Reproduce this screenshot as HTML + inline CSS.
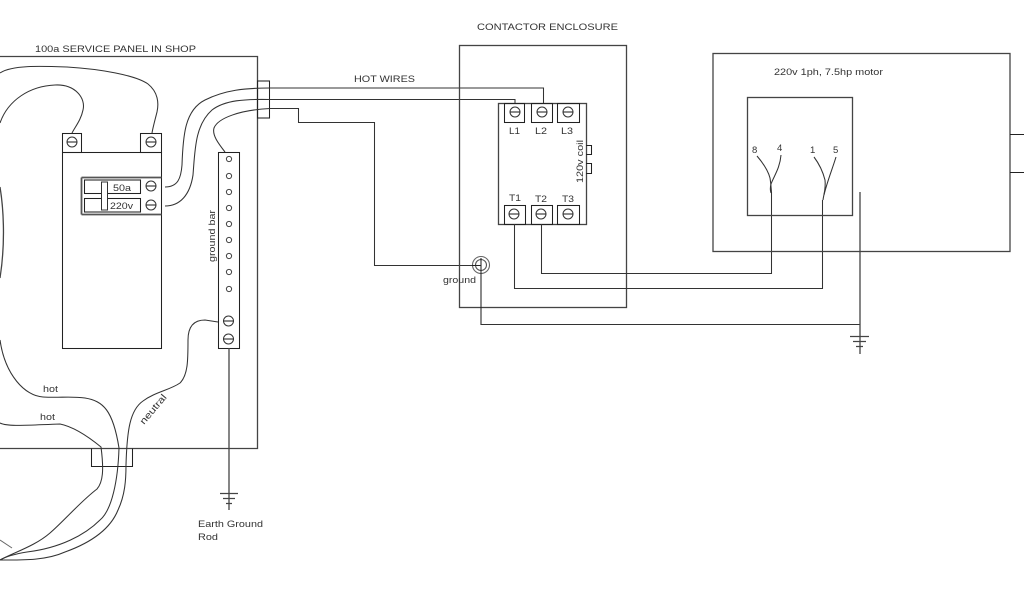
<!DOCTYPE html>
<html>
<head>
<meta charset="utf-8">
<style>
html,body{margin:0;padding:0;background:#fff;width:1024px;height:600px;overflow:hidden}
svg{display:block;filter:blur(0.3px)}
text{font-family:"Liberation Sans",sans-serif;fill:#333;font-size:9.5px}
.l{fill:none;stroke:#222;stroke-width:1.05}
.g{fill:none;stroke:#444;stroke-width:1.3}
.w{fill:none;stroke:#333;stroke-width:1.05}
.s{fill:#fff;stroke:#333;stroke-width:1}
</style>
</head>
<body>
<svg width="1024" height="600" viewBox="0 0 1024 600" xmlns="http://www.w3.org/2000/svg">
<defs>
<g id="sc"><circle r="5" class="s"/><path d="M-5 0H5" class="l"/></g>
<g id="h"><circle r="2.600" fill="#fff" stroke="#444" stroke-width="1"/></g>
</defs>

<!-- service panel -->
<path d="M0 56.500H257.500V448.500H0" class="g"/>
<rect x="257.500" y="81" width="12" height="37" fill="#fff" class="l"/>
<path d="M91.500 448.500V466.500H132.500V448.500" class="l"/>
<text x="35" y="52" textLength="161" lengthAdjust="spacingAndGlyphs">100a SERVICE PANEL IN SHOP</text>

<!-- breaker -->
<rect x="62.500" y="152.500" width="99" height="196" fill="#fff" class="l"/>
<rect x="62.500" y="133.500" width="19" height="19" class="l"/>
<rect x="140.500" y="133.500" width="21" height="19" class="l"/>
<use href="#sc" x="72" y="142"/>
<use href="#sc" x="151" y="142"/>
<path d="M81.500 177.500H161.500M81.500 214.500H161.500M81.500 177.500V214.500" fill="none" stroke="#555" stroke-width="1.800"/>
<rect x="84.500" y="180" width="56" height="13.500" class="l"/>
<rect x="84.500" y="198.500" width="56" height="13.500" class="l"/>
<rect x="101.500" y="182" width="6" height="28" fill="#fff" stroke="#333" stroke-width="1"/>
<use href="#sc" x="151" y="186"/>
<use href="#sc" x="151" y="205"/>
<text x="113" y="191" textLength="18" lengthAdjust="spacingAndGlyphs">50a</text>
<text x="110" y="209" textLength="23" lengthAdjust="spacingAndGlyphs">220v</text>

<!-- ground bar -->
<rect x="218.500" y="152.500" width="21" height="196" fill="#fff" class="l"/>
<use href="#h" x="229" y="159"/><use href="#h" x="229" y="176"/><use href="#h" x="229" y="192"/>
<use href="#h" x="229" y="208"/><use href="#h" x="229" y="224"/><use href="#h" x="229" y="240"/>
<use href="#h" x="229" y="256"/><use href="#h" x="229" y="272"/><use href="#h" x="229" y="289"/>
<use href="#sc" x="228.500" y="321"/><use href="#sc" x="228.500" y="339"/>
<text transform="translate(215,262) rotate(-90)" textLength="52" lengthAdjust="spacingAndGlyphs">ground bar</text>
<path d="M229 348V510M220 493.500H238M223 498.500H235M226 503.500H232" class="g"/>
<text x="198" y="527" textLength="65" lengthAdjust="spacingAndGlyphs">Earth Ground</text>
<text x="198" y="540" textLength="20" lengthAdjust="spacingAndGlyphs">Rod</text>

<!-- wires left -->
<path d="M0 73C12 65 40 66 67 67C100 69 135 75 148 84C158 92 159 103 157 112C155 120 153 127 152 133" class="w"/>
<path d="M0 123C8 100 30 86 55 85C75 84 86 98 83 110C81 120 75 127 72 133" class="w"/>
<path d="M0 187C3 205 6 240 0 278" class="g"/>
<path d="M0 340C5 375 25 396 43 397C60 398 70 396 85 398C103 401 113 410 119 448C118 480 112 510 100 520C85 535 60 548 27 552C15 554 5 557 0 560" class="w"/>
<path d="M0 423C8 427 30 425 60 424C75 427 90 438 101 447C104 470 103 482 97 489C80 502 65 520 50 533C35 546 15 552 0 560" class="w"/>
<path d="M0 560C20 560 45 561 65 552C90 543 110 530 118 510C125 495 126 480 126 465C127 430 130 410 143 401C155 392 170 390 180 383C188 375 188 360 188 340C188 325 195 320 205 320L218 322" class="w"/>
<path d="M0 540L12 548" fill="none" stroke="#666" stroke-width="1"/>
<text x="43" y="392" textLength="15" lengthAdjust="spacingAndGlyphs">hot</text>
<text x="40" y="420" textLength="15" lengthAdjust="spacingAndGlyphs">hot</text>
<text transform="translate(144,425) rotate(-50)" textLength="36" lengthAdjust="spacingAndGlyphs">neutral</text>

<!-- hot wires -->
<path d="M165 187C178 187 181 178 182 165C183 135 185 110 205 100C225 90 245 88 270 88H543.500V103" class="w"/>
<path d="M165 206C180 206 190 195 193 175C195 150 195 125 212 110C225 100 245 99 270 99.500H515V103" class="w"/>
<path d="M225 152C218 143 212 135 214 128C218 118 240 110 270 108.500H298.500V122.500H374.500V265.500H478" class="w"/>
<text x="354" y="82" textLength="61" lengthAdjust="spacingAndGlyphs">HOT WIRES</text>

<!-- contactor enclosure -->
<rect x="459.500" y="45.500" width="167" height="262" class="g"/>
<text x="477" y="30" textLength="141" lengthAdjust="spacingAndGlyphs">CONTACTOR ENCLOSURE</text>

<!-- contactor -->
<rect x="498.500" y="103.500" width="88" height="121" fill="#fff" class="g"/>
<rect x="504.500" y="103.500" width="20" height="19" class="l"/>
<rect x="531.500" y="103.500" width="21" height="19" class="l"/>
<rect x="557.500" y="103.500" width="22" height="19" class="l"/>
<rect x="504.500" y="205.500" width="21" height="19" class="l"/>
<rect x="531.500" y="205.500" width="21" height="19" class="l"/>
<rect x="557.500" y="205.500" width="22" height="19" class="l"/>
<use href="#sc" x="515" y="112"/><use href="#sc" x="542" y="112"/><use href="#sc" x="568" y="112"/>
<use href="#sc" x="514" y="214"/><use href="#sc" x="541" y="214"/><use href="#sc" x="568" y="214"/>
<text x="509" y="134" textLength="11" lengthAdjust="spacingAndGlyphs">L1</text><text x="535" y="134" textLength="12" lengthAdjust="spacingAndGlyphs">L2</text><text x="561" y="134" textLength="12" lengthAdjust="spacingAndGlyphs">L3</text>
<text x="509" y="201" textLength="12" lengthAdjust="spacingAndGlyphs">T1</text><text x="535" y="202" textLength="12" lengthAdjust="spacingAndGlyphs">T2</text><text x="562" y="202" textLength="12" lengthAdjust="spacingAndGlyphs">T3</text>
<text transform="translate(583,183) rotate(-90)" textLength="43" lengthAdjust="spacingAndGlyphs">120v coil</text>
<path d="M586 145.500H591.500V154.500H586M586 163.500H591.500V173.500H586" class="l"/>

<!-- ground terminal -->
<circle cx="481" cy="265" r="8.500" fill="#fff" stroke="#666" stroke-width="1.100"/>
<circle cx="481" cy="265" r="5.500" fill="none" stroke="#555" stroke-width="1.100"/>
<path d="M472 265.500H481M481 258V325" class="l"/>
<text x="443" y="283" textLength="33" lengthAdjust="spacingAndGlyphs">ground</text>

<!-- load wires -->
<path d="M514.500 224V288.500H822.500V200" class="w"/>
<path d="M541.500 224V273.500H771.500V192" class="w"/>
<path d="M481 324.500H860" class="w"/>
<path d="M860 192V354M850 336.500H869M853 341.500H866M856 346.500H863" class="g"/>

<!-- motor -->
<rect x="713" y="53.500" width="297" height="198" class="g"/>
<path d="M1010 134.500H1024M1010 172.500H1024" class="l"/>
<text x="774" y="75" textLength="109" lengthAdjust="spacingAndGlyphs">220v 1ph, 7.5hp motor</text>
<rect x="747.500" y="97.500" width="105" height="118" class="g"/>
<text x="752" y="153">8</text><text x="777" y="151">4</text>
<text x="810" y="153">1</text><text x="833" y="153">5</text>
<path d="M757 156C763 163 768 170 770 178C771 184 771 188 771.500 192" class="w"/>
<path d="M781 155C780 168 774 176 771 184C770 188 770 190 771 193" class="w"/>
<path d="M814 157C820 165 823 172 825 180C826 188 824 193 823 200" class="w"/>
<path d="M836 157C832 170 827 182 824 195" class="w"/>
</svg>
</body>
</html>
